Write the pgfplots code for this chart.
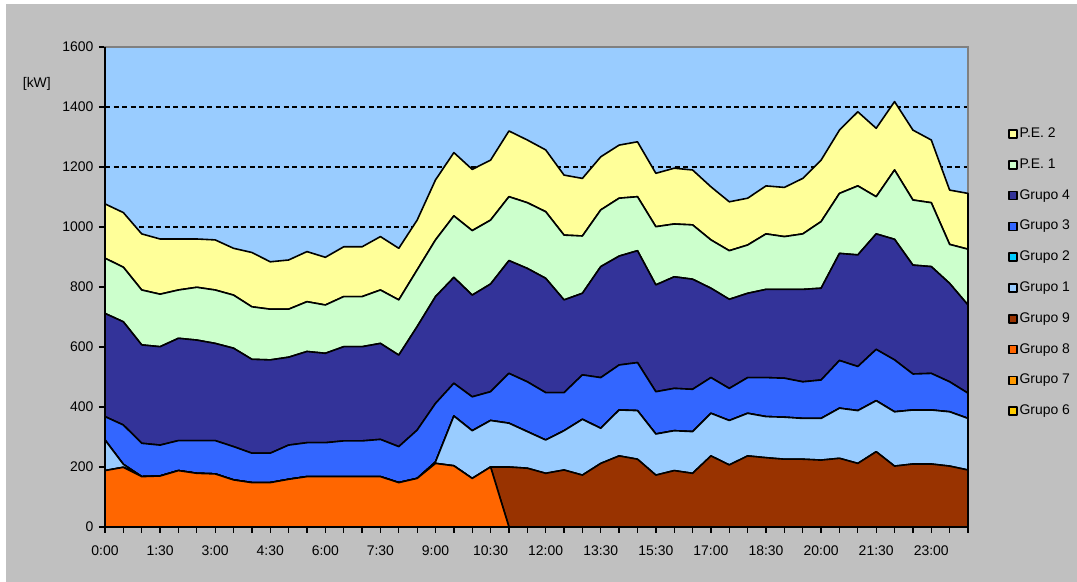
\documentclass[border=0pt]{standalone}
\usepackage{fontspec}
\setmainfont{Liberation Sans}
\usepackage{pgfplots}
\usepackage{pgfplotstable}
\pgfplotsset{compat=1.18}
\definecolor{bg}{HTML}{C0C0C0}
\definecolor{plotbg}{HTML}{99CCFF}
\definecolor{cPEtwo}{HTML}{FFFF99}
\definecolor{cPEone}{HTML}{CCFFCC}
\definecolor{cGfour}{HTML}{333399}
\definecolor{cGthree}{HTML}{3366FF}
\definecolor{cGtwo}{HTML}{00CCFF}
\definecolor{cGone}{HTML}{99CCFF}
\definecolor{cGnine}{HTML}{993300}
\definecolor{cGeight}{HTML}{FF6600}
\definecolor{cGseven}{HTML}{FF9900}
\definecolor{cGsix}{HTML}{FFCC00}
\definecolor{bordergray}{HTML}{808080}

\pgfplotstableread{
x  G6 G7 G8  G9  G1  G2 G3  G4  PE1 PE2
0  0  0  188 0   102 0  78  344 184 181
1  0  0  199 0   10  0  131 344 182 182
2  0  0  168 0   0   0  111 328 183 187
3  0  0  170 0   0   0  103 328 175 184
4  0  0  188 0   0   0  100 341 161 170
5  0  0  179 0   0   0  109 335 176 161
6  0  0  177 0   0   0  111 324 178 167
7  0  0  157 0   0   0  111 328 177 156
8  0  0  148 0   0   0  98  313 175 181
9  0  0  148 0   0   0  98  311 169 158
10 0  0  159 0   0   0  114 293 160 164
11 0  0  168 0   0   0  113 304 166 167
12 0  0  168 0   0   0  113 298 161 159
13 0  0  168 0   0   0  119 314 167 166
14 0  0  168 0   0   0  119 314 167 166
15 0  0  168 0   0   0  124 320 178 178
16 0  0  148 0   0   0  120 305 184 172
17 0  0  162 0   0   0  161 345 189 166
18 0  0  212 0   5   0  195 356 189 200
19 0  0  204 0   166 0  109 353 205 211
20 0  0  162 0   159 0  113 339 215 204
21 0  0  200 0   155 0  96  359 213 200
22 0  0  0   200 146 0  166 376 213 219
23 0  0  0   196 122 0  166 378 219 209
24 0  0  0   179 111 0  158 381 222 206
25 0  0  0   190 131 0  127 309 216 200
26 0  0  0   173 186 0  148 272 191 192
27 0  0  0   212 117 0  169 370 189 177
28 0  0  0   237 153 0  150 363 193 177
29 0  0  0   226 162 0  160 373 180 183
30 0  0  0   173 137 0  141 356 194 178
31 0  0  0   188 133 0  141 372 176 186
32 0  0  0   179 139 0  141 367 181 183
33 0  0  0   237 142 0  119 298 161 177
34 0  0  0   207 148 0  107 297 162 163
35 0  0  0   237 142 0  119 281 161 156
36 0  0  0   231 137 0  130 294 185 160
37 0  0  0   226 140 0  130 296 176 164
38 0  0  0   226 136 0  122 308 185 185
39 0  0  0   223 139 0  128 306 222 205
40 0  0  0   229 167 0  159 357 200 211
41 0  0  0   212 176 0  147 372 230 247
42 0  0  0   251 170 0  171 385 124 228
43 0  0  0   203 181 0  173 402 231 228
44 0  0  0   210 180 0  120 363 217 233
45 0  0  0   210 180 0  122 356 213 209
46 0  0  0   203 181 0  100 328 130 181
47 0  0  0   190 172 0  84  294 186 186
}\data

\begin{document}
\begin{tikzpicture}
\fill[white] (0bp,0bp) rectangle (1077bp,582bp);
\fill[bg] (6bp,0bp) rectangle (1077bp,578bp);
\useasboundingbox (0bp,0bp) rectangle (1077bp,582bp);
\begin{axis}[
  at={(105bp,55bp)}, anchor=south west,
  scale only axis, width=863bp, height=480bp,
  xmin=0, xmax=47, ymin=0, ymax=1600,
  stack plots=y,
  axis background/.style={fill=plotbg},
  axis line style={draw=bordergray, line width=1.5bp},
  xtick={0,...,47},
  xticklabels={0:00,,,1:30,,,3:00,,,4:30,,,6:00,,,7:30,,,9:00,,,10:30,,,12:00,,,13:30,,,15:30,,,17:00,,,18:30,,,20:00,,,21:30,,,23:00,,},
  ytick={0,200,...,1600},
  xtick pos=bottom, ytick pos=left,
  tick align=outside,
  major tick length=6bp,
  tick style={black, line width=1.3bp},
  ymajorgrids,
  grid style={black, dash pattern=on 5bp off 3.5bp, line width=1.2bp},
  /pgf/number format/assume math mode=true,
  /pgf/number format/1000 sep={},
  ticklabel style={font=\fontsize{14}{16}\selectfont, black},
  yticklabel style={xshift=-2bp},
  xticklabel style={yshift=-9bp},
  ylabel={[kW]},
  every axis y label/.style={at={(rel axis cs:-0.079,0.923)}, anchor=center, font=\fontsize{14}{16}\selectfont},
  clip=false,
  reverse legend,
  legend cell align=left,
  legend style={at={(rel axis cs:1.046,0.837)}, anchor=north west, draw=none, fill=none,
    inner sep=0pt, row sep=13.8bp, font=\fontsize{14}{16}\selectfont,
    nodes={inner sep=2bp, text height=10bp, text depth=3bp}},
  legend image code/.code={\draw[#1, draw=black, line width=1.6bp] (0bp,-4bp) rectangle (8bp,4bp);},
  every axis plot/.append style={draw=black, line width=1.6bp, line join=round},
]
\addplot[fill=cGsix] table[x=x, y=G6] {\data} \closedcycle;
\addlegendentry{Grupo 6}
\addplot[fill=cGseven] table[x=x, y=G7] {\data} \closedcycle;
\addlegendentry{Grupo 7}
\addplot[fill=cGeight] table[x=x, y=G8] {\data} \closedcycle;
\addlegendentry{Grupo 8}
\addplot[fill=cGnine] table[x=x, y=G9] {\data} \closedcycle;
\addlegendentry{Grupo 9}
\addplot[fill=cGone] table[x=x, y=G1] {\data} \closedcycle;
\addlegendentry{Grupo 1}
\addplot[fill=cGtwo] table[x=x, y=G2] {\data} \closedcycle;
\addlegendentry{Grupo 2}
\addplot[fill=cGthree] table[x=x, y=G3] {\data} \closedcycle;
\addlegendentry{Grupo 3}
\addplot[fill=cGfour] table[x=x, y=G4] {\data} \closedcycle;
\addlegendentry{Grupo 4}
\addplot[fill=cPEone] table[x=x, y=PE1] {\data} \closedcycle;
\addlegendentry{P.E. 1}
\addplot[fill=cPEtwo] table[x=x, y=PE2] {\data} \closedcycle;
\addlegendentry{P.E. 2}
\draw[black, line width=1.5bp] (rel axis cs:0,1) -- (rel axis cs:0,0) -- (rel axis cs:1,0);
\end{axis}
\end{tikzpicture}
\end{document}
